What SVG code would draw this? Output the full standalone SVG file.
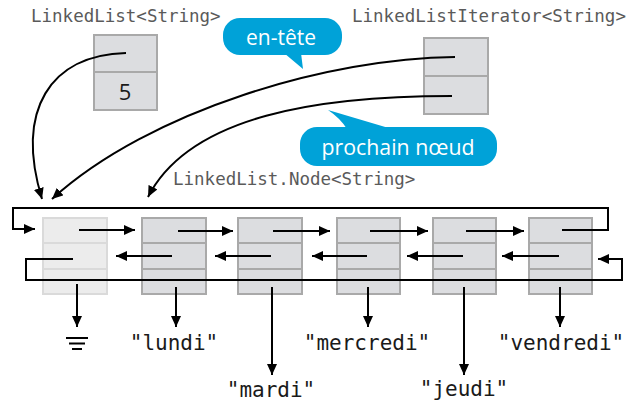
<svg xmlns="http://www.w3.org/2000/svg" width="632" height="406" viewBox="0 0 632 406">
<style>
.lbl{font-family:"DejaVu Sans Mono",monospace;font-size:17.5px;fill:#5a5a5a}
.val{font-family:"DejaVu Sans Mono",monospace;font-size:21px;fill:#1a1a1a;text-anchor:middle}
.cell{fill:#dcdde0;stroke:#a9a9a9;stroke-width:2}
.cell0{fill:#ececec;stroke:#dadada;stroke-width:2}
.ln{fill:none;stroke:#000;stroke-width:2}
.arr{fill:none;stroke:#000;stroke-width:2;marker-end:url(#ah)}
.bub{fill:#00a2d8}
.btxt{font-family:"Open Sans","Lato",sans-serif;font-size:21px;fill:#fff;text-anchor:middle}
</style>
<defs>
<marker id="ah" markerUnits="userSpaceOnUse" markerWidth="12" markerHeight="10" refX="11" refY="5" orient="auto">
<path d="M0,0 L11,5 L0,10 z" fill="#000"/>
</marker>
</defs>
<rect width="632" height="406" fill="#fff"/>

<text class="lbl" x="31" y="22">LinkedList&lt;String&gt;</text>
<text class="lbl" x="352" y="22">LinkedListIterator&lt;String&gt;</text>
<text class="lbl" x="173" y="185">LinkedList.Node&lt;String&gt;</text>

<g id="list">
<rect class="cell" x="94" y="35" width="63" height="37"/>
<rect class="cell" x="94" y="72" width="63" height="38"/>
<text x="125" y="100" font-family="'Open Sans',sans-serif" font-size="22" fill="#1a1a1a" text-anchor="middle">5</text>
</g>
<g id="iterator">
<rect class="cell" x="424" y="38" width="64" height="38"/>
<rect class="cell" x="424" y="76" width="64" height="38"/>
</g>

<g id="node0">
<rect class="cell0" x="43" y="218" width="64" height="25"/>
<rect class="cell0" x="43" y="243" width="64" height="26"/>
<rect class="cell0" x="43" y="269" width="64" height="25"/>
</g>
<g id="node1">
<rect class="cell" x="142" y="218" width="64" height="25"/>
<rect class="cell" x="142" y="243" width="64" height="26"/>
<rect class="cell" x="142" y="269" width="64" height="25"/>
</g>
<g id="node2">
<rect class="cell" x="238" y="218" width="64" height="25"/>
<rect class="cell" x="238" y="243" width="64" height="26"/>
<rect class="cell" x="238" y="269" width="64" height="25"/>
</g>
<g id="node3">
<rect class="cell" x="337" y="218" width="63" height="25"/>
<rect class="cell" x="337" y="243" width="63" height="26"/>
<rect class="cell" x="337" y="269" width="63" height="25"/>
</g>
<g id="node4">
<rect class="cell" x="433" y="218" width="63" height="25"/>
<rect class="cell" x="433" y="243" width="63" height="26"/>
<rect class="cell" x="433" y="269" width="63" height="25"/>
</g>
<g id="node5">
<rect class="cell" x="529" y="218" width="63" height="25"/>
<rect class="cell" x="529" y="243" width="63" height="26"/>
<rect class="cell" x="529" y="269" width="63" height="25"/>
</g>

<g id="connectors">
<path class="arr" d="M126,53 C50,55 15,110 42,199"/>
<path class="arr" d="M455,57 C330,58 150,110 52,199"/>
<path class="arr" d="M452,96 C320,96 190,115 148,197"/>

<path class="arr" d="M79,230 L135,230"/>
<path class="arr" d="M178,231 L233,231"/>
<path class="arr" d="M273,231 L330,231"/>
<path class="arr" d="M370,231 L428,231"/>
<path class="arr" d="M466,231 L524,231"/>

<path class="arr" d="M172,256 L116,256"/>
<path class="arr" d="M271,256 L215,256"/>
<path class="arr" d="M367,256 L312,256"/>
<path class="arr" d="M463,256 L407,256"/>
<path class="arr" d="M559,256 L502,256"/>

<path class="arr" d="M562,230 L608,230 L608,208 L13,208 L13,229 L35,229"/>
<path class="arr" d="M73,259 L26,259 L26,280 L622,280 L622,259 L598,259"/>

<path class="arr" d="M77,284 L77,327"/>
<path class="arr" d="M176,287 L176,327"/>
<path class="arr" d="M272,287 L272,375"/>
<path class="arr" d="M368,287 L368,327"/>
<path class="arr" d="M464,287 L464,375"/>
<path class="arr" d="M560,287 L560,327"/>

<path class="ln" d="M66,338 L88,338 M69,343.5 L85,343.5 M72,349 L82,349"/>
</g>

<text class="val" x="174" y="350">"lundi"</text>
<text class="val" x="271" y="397">"mardi"</text>
<text class="val" x="367" y="350">"mercredi"</text>
<text class="val" x="464" y="396">"jeudi"</text>
<text class="val" x="561" y="350">"vendredi"</text>

<g id="callout-entete">
<rect class="bub" x="223" y="18" width="119" height="37" rx="17"/>
<path class="bub" d="M284,53 L303,69 L301,53 z"/>
<text class="btxt" x="281" y="45" textLength="70" lengthAdjust="spacingAndGlyphs">en-tête</text>
</g>
<g id="callout-prochain">
<rect class="bub" x="300" y="127" width="197" height="39" rx="17"/>
<path class="bub" d="M347,129 Q340,118 328,110 L392,129 z"/>
<text class="btxt" x="398" y="155" textLength="153" lengthAdjust="spacingAndGlyphs">prochain nœud</text>
</g>
</svg>
